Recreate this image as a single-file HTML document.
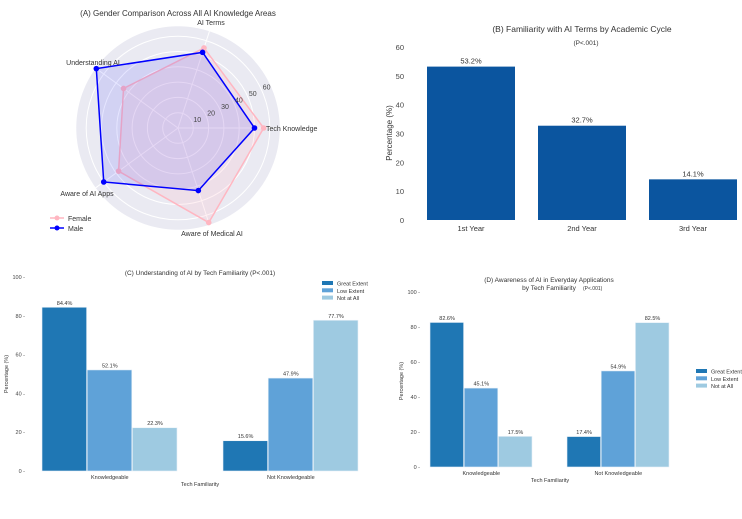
<!DOCTYPE html>
<html><head><meta charset="utf-8"><style>
body{margin:0;background:#fff;font-family:"Liberation Sans",sans-serif}
svg text{font-family:"Liberation Sans",sans-serif}
</style></head><body>
<svg id="s" width="742" height="514" xmlns="http://www.w3.org/2000/svg"></svg>
<script>
const radarCats=["Tech Knowledge","AI Terms","Understanding AI","Aware of AI Apps","Aware of Medical AI"];
const radarFemale=[56,55,44,48,65];
const radarMale=[50,52,66,60,43];
const radarTicks=[10,20,30,40,50,60];
const bCats=["1st Year","2nd Year","3rd Year"];
const bVals=[53.2,32.7,14.1];
const bTicks=[0,10,20,30,40,50,60];
const groupCats=["Knowledgeable","Not Knowledgeable"];
const seriesNames=["Great Extent","Low Extent","Not at All"];
const cGreat=[84.4,15.6],cLow=[52.1,47.9],cNot=[22.3,77.7];
const dGreat=[82.6,17.4],dLow=[45.1,54.9],dNot=[17.5,82.5];
const pctTicks=[0,20,40,60,80,100];
const NS="http://www.w3.org/2000/svg",S=document.getElementById('s');
function el(t,a,p){const e=document.createElementNS(NS,t);for(const k in a)e.setAttribute(k,a[k]);(p||S).appendChild(e);return e}
function tx(x,y,s,sz,anch,fill,extra){const e=el('text',Object.assign({x:x,y:y,'font-size':sz,'text-anchor':anch||'middle',fill:fill||'#333'},extra||{}));e.textContent=s;return e}
// Radar
const cx=178,cy=128,rs=1.53,rmax=66.5;
const g=el('g',{});
const bg=el('circle',{cx:cx,cy:cy,r:rmax*rs,fill:'#eaeaf2'},g);
radarTicks.forEach(t=>{const c=el('circle',{cx:cx,cy:cy,r:t*rs,fill:'none',stroke:'#fff','stroke-width':1},g);});
const ang=i=>i*2*Math.PI/radarCats.length;
const pt=(i,v)=>[cx+Math.cos(ang(i))*v*rs,cy-Math.sin(ang(i))*v*rs];
const labelPos=[[266,131,'start'],[211,25,'middle'],[93,65,'middle'],[87,196,'middle'],[212,236,'middle']];
radarCats.forEach((c,i)=>{const p=pt(i,rmax);const sp=el('line',{x1:cx,y1:cy,x2:p[0],y2:p[1],stroke:'#fff'},g);
const lp=labelPos[i];
const l=tx(lp[0],lp[1],c,7,lp[2],'#333');});
radarTicks.forEach(t=>{const a=25*Math.PI/180,r=t*rs+6;const l=tx(cx+Math.cos(a)*r,cy-Math.sin(a)*r+3,String(t),7,'middle','#444');});
function poly(vals,col,fill,name,op){const pts=vals.map((v,i)=>pt(i,v).join(',')).join(' ');
const p=el('polygon',{points:pts,fill:fill,'fill-opacity':op,stroke:col,'stroke-width':1.5},g);
vals.forEach((v,i)=>{const q=pt(i,v);const m=el('circle',{cx:q[0],cy:q[1],r:2.8,fill:col},g);});}
poly(radarFemale,'#ffb6c1','#ffb6c1','female',0.2);
poly(radarMale,'#0000ff','#0000ff','male',0.1);
const rt=tx(178,16,'(A) Gender Comparison Across All AI Knowledge Areas',8,'middle','#333');
[['Female','#ffb6c1',218],['Male','#0000ff',228]].forEach(([n,c,y])=>{const lg=el('g',{},g);
el('line',{x1:50,y1:y,x2:64,y2:y,stroke:c,'stroke-width':1.5},lg);el('circle',{cx:57,cy:y,r:2.5,fill:c},lg);tx(68,y+3,n,7,'start','#333');});
// Chart B
const bx0=427,bstep=111,bw=88,by0=220,bpx=173/60;
const by=v=>by0-v*bpx;
bTicks.forEach(t=>{const l=tx(404,by(t)+3,String(t),7.5,'end','#444');});
bCats.forEach((c,i)=>{const x=bx0+i*bstep;const r=el('rect',{x:x,y:by(bVals[i]),width:bw,height:bVals[i]*bpx,fill:'#0b559f'});
const v=tx(x+bw/2,by(bVals[i])-3,bVals[i].toFixed(1)+'%',7.5,'middle','#333');
const l=tx(x+bw/2,231,c,7.5,'middle','#333');});
let e=tx(582,32,'(B) Familiarity with AI Terms by Academic Cycle',8.5,'middle','#333');
e=tx(586,45,'(P<.001)',6.5,'middle','#333');
e=tx(0,0,'Percentage (%)',8,'middle','#333',{transform:'translate(392,133) rotate(-90)'});
// grouped bar charts
const cols=['#1f77b4','#5fa2d8','#9ecae1'];
function grouped(pre,series,x0,gap,bw,y0,h,tickX,legX,legY){
 const yy=v=>y0-v*h/100;
 pctTicks.forEach(t=>{const l=tx(tickX,yy(t)+2,t+' -',5.5,'end','#444');});
 groupCats.forEach((c,gi)=>{const gx=x0+gi*gap;
  series.forEach((s,si)=>{const x=gx+si*bw;const r=el('rect',{x:x,y:yy(s[gi]),width:bw-0.6,height:s[gi]*h/100,fill:cols[si],stroke:'#e8f1f8','stroke-width':0.6});
   
   const v=tx(x+bw/2,yy(s[gi])-2.5,s[gi].toFixed(1)+'%',5.5,'middle','#333');});
  const l=tx(gx+bw*1.5,y0+8,c,5.5,'middle','#333');});
 seriesNames.forEach((n,i)=>{const lg=el('g',{});
  el('rect',{x:legX,y:legY+i*7.3-3,width:11,height:4,fill:cols[i]},lg);tx(legX+15,legY+i*7.3+1.5,n,5.5,'start','#333');});
}
grouped('c',[cGreat,cLow,cNot],42,181,45.2,471,194,25,322,284);
e=tx(200,275,'(C) Understanding of AI by Tech Familiarity (P<.001)',6.5,'middle','#333');
e=tx(200,486,'Tech Familiarity',5.5,'middle','#333');
e=tx(0,0,'Percentage (%)',5.5,'middle','#333',{transform:'translate(8,374) rotate(-90)'});
grouped('d',[dGreat,dLow,dNot],430,137,34.2,467,175,420,696,372);
e=tx(549,282,'(D) Awareness of AI in Everyday Applications',6.5,'middle','#333');
e=tx(549,290,'by Tech Familiarity ',6.5,'middle','#333');
e=tx(583,290,'(P<.001)',5,'start','#333');
e=tx(550,482,'Tech Familiarity',5.5,'middle','#333');
e=tx(0,0,'Percentage (%)',5.5,'middle','#333',{transform:'translate(403,381) rotate(-90)'});
</script>
</body></html>
